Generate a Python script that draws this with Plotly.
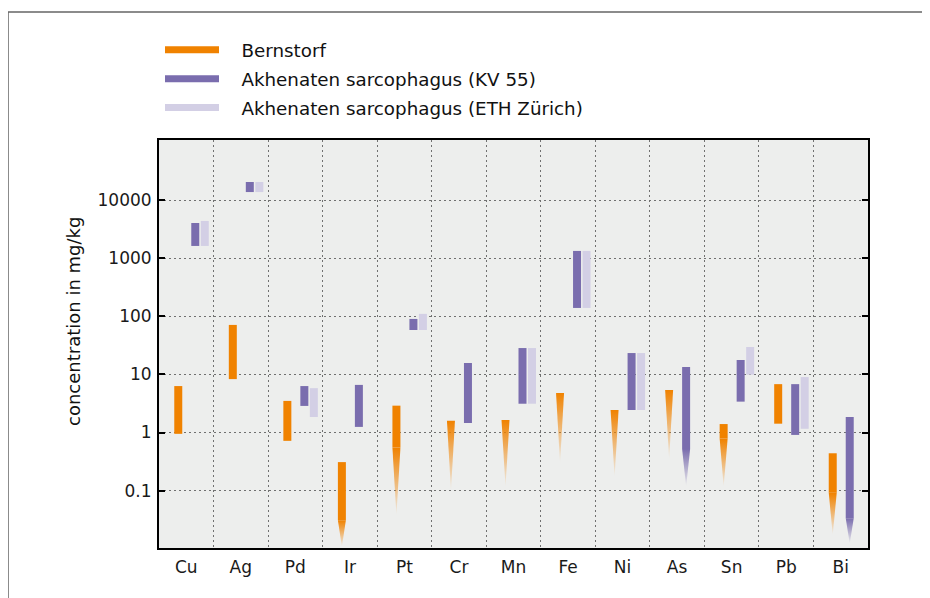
import plotly.graph_objects as go

# ---------------- data ----------------
elements = ["Cu", "Ag", "Pd", "Ir", "Pt", "Cr", "Mn", "Fe", "Ni", "As", "Sn", "Pb", "Bi"]
ytick_vals = [0.1, 1, 10, 100, 1000, 10000]
ytick_text = ["0.1", "1", "10", "100", "1000", "10000"]

series_names = ["Bernstorf", "Akhenaten sarcophagus (KV 55)", "Akhenaten sarcophagus (ETH Zürich)"]

# Bernstorf (mg/kg): upper value, lower end of the certain range, lower end of the tapering range
bern_high = [6.3, 71, 3.5, 0.31, 2.9, 1.6, 1.65, 4.8, 2.45, 5.4, 1.4, 6.8, 0.44]
bern_low = [0.95, 8.3, 0.72, 0.031, 0.55, None, None, None, None, None, 0.79, 1.42, 0.092]
bern_taper = [None, None, None, 0.011, 0.038, 0.10, 0.117, 0.30, 0.174, 0.35, 0.118, None, 0.0175]

# Akhenaten sarcophagus (KV 55)
kv55_high = [4020, 20400, 6.3, 6.6, 90, 15.7, 28.4, 1330, 23.3, 13.4, 17.7, 6.8, 1.85]
kv55_low = [1620, 13700, 2.87, 1.25, 58, 1.46, 3.13, 139, 2.44, 0.52, 3.4, 0.91, 0.0335]
kv55_taper = [None, None, None, None, None, None, None, None, None, 0.118, None, None, 0.0124]

# Akhenaten sarcophagus (ETH Zürich)
eth_high = [4360, 20400, 5.8, None, 110, None, 28.4, 1330, 23.3, None, 29.6, 9.0, None]
eth_low = [1620, 13700, 1.85, None, 58, None, 3.13, 139, 2.44, None, 9.9, 1.16, None]
eth_taper = [None] * 13

# ---------------- styles ----------------
ORANGE = "#f08200"
PURPLE = "#7a6dae"
LIGHT = "#d3cfe5"
FONT = "DejaVu Sans"
GRID = "#707070"
GRID_DASH = "1.5px,3.5px"

PLOT_W, PLOT_H = 709, 408
PX_PER_UNIT = PLOT_W / 13.0
BAR_W = 8 / PX_PER_UNIT
OFFSETS = [-12 / PX_PER_UNIT, 5 / PX_PER_UNIT, 14.5 / PX_PER_UNIT]
COLORS = [ORANGE, PURPLE, LIGHT]
FADE = ["rgba(240,130,0,0.03)", "rgba(122,109,174,0.03)", "rgba(211,207,229,0.03)"]

fig = go.Figure()

all_series = [
    (bern_high, bern_low, bern_taper),
    (kv55_high, kv55_low, kv55_taper),
    (eth_high, eth_low, eth_taper),
]

for s, (high, low, taper) in enumerate(all_series):
    xs, bases, heights = [], [], []
    for i, (h, l) in enumerate(zip(high, low)):
        if h is not None and l is not None:
            xs.append(i)
            bases.append(l)
            heights.append(h - l)
    fig.add_trace(go.Bar(
        x=xs, y=heights, base=bases, width=BAR_W, offset=OFFSETS[s],
        marker=dict(color=COLORS[s], line=dict(width=0)),
        showlegend=False, hoverinfo="skip",
    ))
    # tapering (uncertain) lower parts
    for i, t in enumerate(taper):
        if t is None or high[i] is None:
            continue
        top = low[i] if low[i] is not None else high[i]
        x0 = i + OFFSETS[s]
        x1 = x0 + BAR_W
        fig.add_trace(go.Scatter(
            x=[x0, x1, (x0 + x1) / 2, x0],
            y=[top, top, t, top],
            mode="lines", line=dict(width=0), fill="toself",
            fillgradient=dict(type="vertical", start=t, stop=top,
                              colorscale=[[0, FADE[s]], [1, COLORS[s]]]),
            showlegend=False, hoverinfo="skip",
        ))

# legend entries
for s, name in enumerate(series_names):
    fig.add_trace(go.Scatter(
        x=[None], y=[None], mode="lines", name="\u00a0\u00a0\u00a0" + name,
        legendgroup=f"g{s}",
        line=dict(color=COLORS[s], width=7),
    ))

minor_vals = [i + 0.5 for i in range(len(elements) - 1)]

# the page adds an 8 px body margin, so the figure is laid out 8 px up/left
fig.update_layout(
    width=930, height=598,
    margin=dict(l=151, r=70, t=132, b=58),
    paper_bgcolor="white", plot_bgcolor="#edeeed",
    font=dict(family=FONT, size=17, color="#1a1a1a"),
    barmode="overlay",
    showlegend=True,
    legend=dict(
        x=1 / PLOT_W, y=1.266, xanchor="left", yanchor="top",
        bgcolor="rgba(0,0,0,0)", itemwidth=54,
        font=dict(family=FONT, size=18.3, color="#111"),
        traceorder="grouped", tracegroupgap=2,
    ),
    xaxis=dict(
        range=[-0.5, 12.5], tickmode="array",
        tickvals=list(range(len(elements))), ticktext=elements,
        ticks="", showgrid=False, zeroline=False,
        showline=True, linecolor="black", linewidth=2, mirror=True,
        tickfont=dict(family=FONT, size=17), ticklabelstandoff=3,
        minor=dict(tickmode="array", tickvals=minor_vals, showgrid=True,
                   gridcolor=GRID, griddash=GRID_DASH, gridwidth=1, ticks=""),
    ),
    yaxis=dict(
        type="log", range=[-1.986, 5.032], tickmode="array",
        tickvals=ytick_vals, ticktext=ytick_text,
        ticks="inside", ticklen=6, tickwidth=2, tickcolor="black",
        showline=True, linecolor="black", linewidth=2, mirror="ticks",
        showgrid=True, gridcolor=GRID, griddash=GRID_DASH, gridwidth=1,
        zeroline=False, ticklabelstandoff=2,
        tickfont=dict(family=FONT, size=17),
    ),
    annotations=[dict(
        text="concentration in mg/kg", textangle=-90,
        xref="paper", yref="paper", x=(73 - 159) / PLOT_W, y=(548 - 322) / PLOT_H,
        xanchor="center", yanchor="middle", showarrow=False,
        font=dict(family=FONT, size=18, color="#111"),
    )],
    shapes=[dict(
        type="rect", xref="paper", yref="paper",
        x0=(8 - 159) / PLOT_W, x1=1.3, y0=-0.4, y1=(548 - 12) / PLOT_H,
        line=dict(color="#666", width=1.5), fillcolor="rgba(0,0,0,0)", layer="below",
    )],
)

fig.write_html("out.html")
